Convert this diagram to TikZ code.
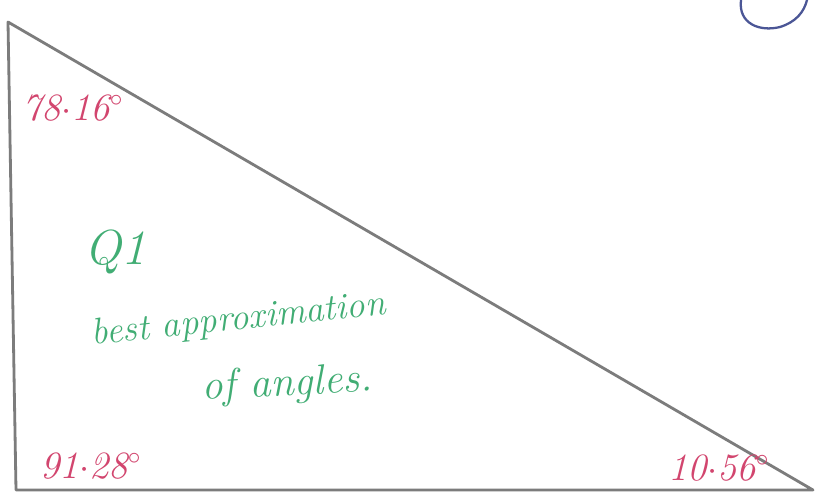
\documentclass[tikz,border=0pt]{standalone}
\usepackage{tikz}
\usetikzlibrary{positioning}
\definecolor{edgeink}{HTML}{7C7C7C}
\definecolor{angink}{HTML}{D2456E}
\definecolor{noteink}{HTML}{41AD74}
\definecolor{markink}{HTML}{4B5696}

\begin{document}
\begin{tikzpicture}[
  x=0.02cm, y=-0.02cm,
  edge/.style={draw=edgeink, line width=1.6pt, line join=round, line cap=round},
  ang/.style={text=angink, font=\fontsize{22}{24}\selectfont\itshape, inner sep=0pt, anchor=base west},
  note/.style={text=noteink, font=\fontsize{21}{24}\selectfont\itshape, inner sep=0pt, anchor=base west},
  penarc/.style={draw=markink, line width=1.3pt, line cap=round}
]
  \useasboundingbox[fill=white] (0,0) rectangle (821,500);

  % triangle corners
  \coordinate (top)   at (8,22);
  \coordinate (lowl)  at (16,490);
  \coordinate (lowr)  at (813,490);
  \draw[edge] (top) -- (lowl) -- (lowr) -- cycle;

  % angle readings
  \node[ang] (atop)  at (22,120)  {78$\cdot$16$^{\circ}$};
  \node[ang] (alowl) at (40,478)  {91$\cdot$28$^{\circ}$};
  \node[ang] (alowr) at (668,480) {10$\cdot$56$^{\circ}$};

  % question note
  \node[note, font=\fontsize{28}{30}\selectfont\itshape] (qnum) at (84,264) {Q1};
  \node[note, rotate=6] (line1) at (92,345) {best approximation};
  \node[note, rotate=3, font=\fontsize{24}{26}\selectfont\itshape] (line2) at (202,400) {of angles.};

  % blue mark in the corner
  \coordinate (arcin)  at (741,0);
  \coordinate (arcout) at (807,0);
  \draw[penarc] (arcin) .. controls (738,24) and (760,32) .. (780,27)
              .. controls (796,22) and (804,12) .. (arcout);
\end{tikzpicture}
\end{document}
